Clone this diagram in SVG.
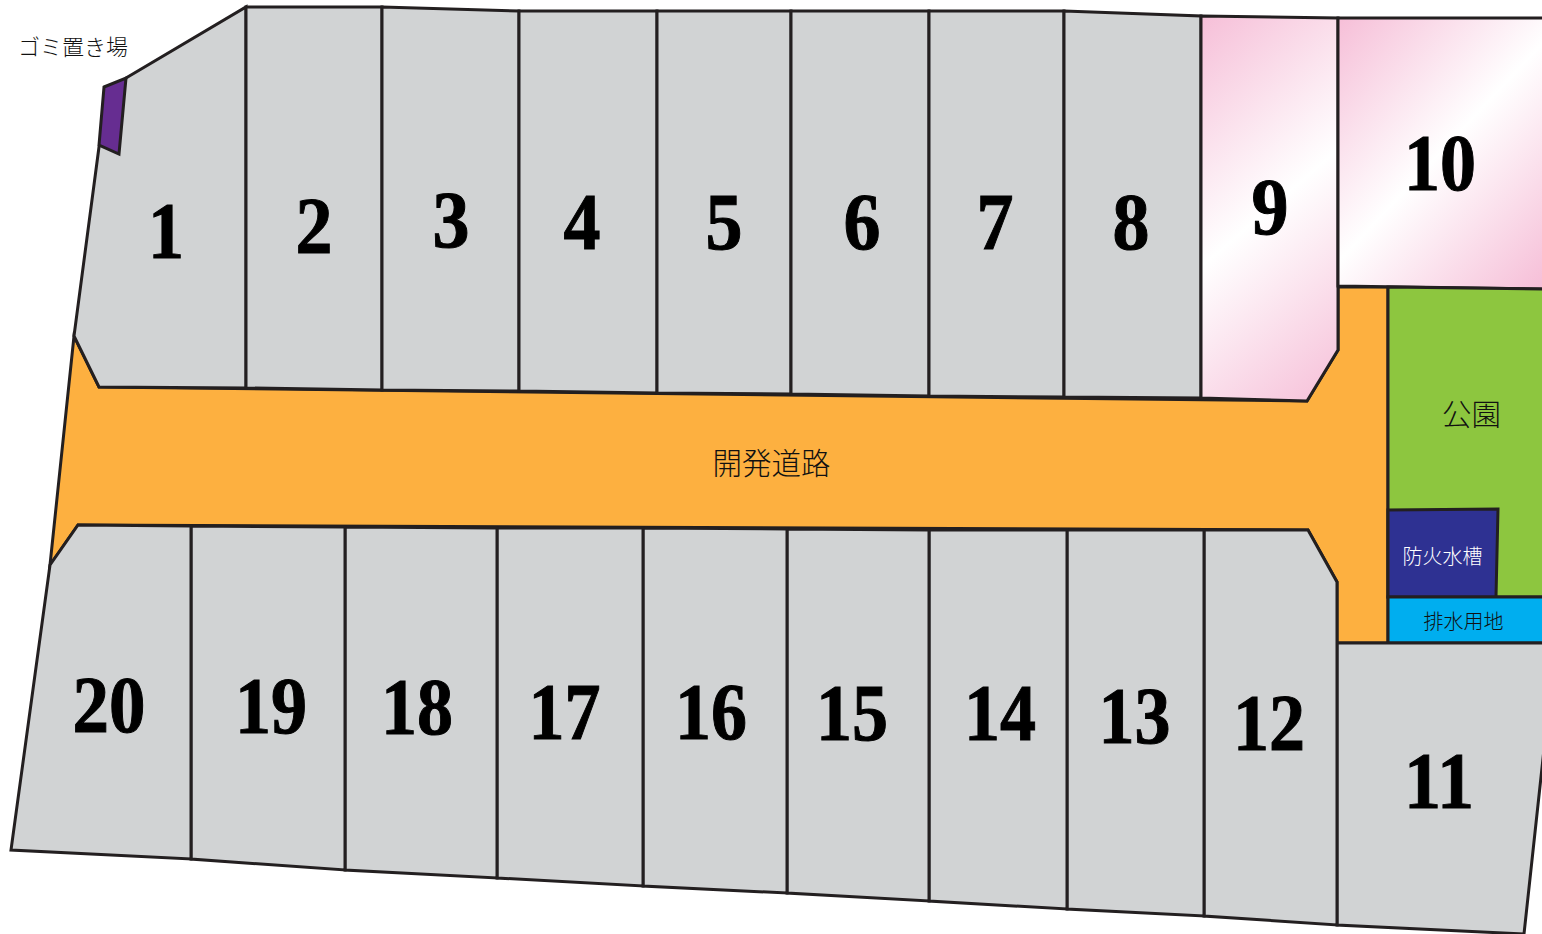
<svg xmlns="http://www.w3.org/2000/svg" width="1542" height="934" viewBox="0 0 1542 934">
<style>
.s{stroke:#231f20;stroke-width:3;stroke-linejoin:miter}
.g{fill:#d1d3d4}
.n{font-family:"Liberation Serif","Times New Roman",serif;font-weight:bold;font-size:80px;fill:#000;stroke:#000;stroke-width:1;text-anchor:middle}
.j{font-family:"Noto Sans CJK JP","Noto Sans",sans-serif;fill:#111;font-weight:300}
</style>
<defs>
<linearGradient id="p9" gradientUnits="userSpaceOnUse" x1="1146" y1="63" x2="1394" y2="353"><stop offset="0" stop-color="#f6bfd8"/><stop offset=".5" stop-color="#fff"/><stop offset="1" stop-color="#f6bfd8"/></linearGradient>
<linearGradient id="p10" gradientUnits="userSpaceOnUse" x1="1319" y1="40" x2="1561" y2="266"><stop offset="0" stop-color="#f6bfd8"/><stop offset=".5" stop-color="#fff"/><stop offset="1" stop-color="#f6bfd8"/></linearGradient>
</defs>
<rect width="1542" height="934" fill="#fff"/>
<g id="road"><polygon class="s" fill="#fdb040" points="74,336 99,387 1307,401 1338,350 1338,287 1388,287 1388,643 1337,643 1337,582 1308,530 78,525 50,565"/>
<text class="j" x="771.500" y="473.500" font-size="29.500" text-anchor="middle">開発道路</text></g>
<g id="lot1"><polygon class="s g" points="126,78 246,7 246,388 99,387 74,336 99,147"/><text class="n" x="166" y="258" textLength="36" lengthAdjust="spacingAndGlyphs">1</text></g>
<g id="lot2"><polygon class="s g" points="246,7 382,7 382,390 246,388"/><text class="n" x="314" y="253" textLength="37" lengthAdjust="spacingAndGlyphs">2</text></g>
<g id="lot3"><polygon class="s g" points="382,7 519,11 519,391 382,390"/><text class="n" x="451" y="247" textLength="37" lengthAdjust="spacingAndGlyphs">3</text></g>
<g id="lot4"><polygon class="s g" points="519,11 657,11 657,393 519,391"/><text class="n" x="582" y="249" textLength="37" lengthAdjust="spacingAndGlyphs">4</text></g>
<g id="lot5"><polygon class="s g" points="657,11 791,11 791,394 657,393"/><text class="n" x="724" y="249" textLength="37" lengthAdjust="spacingAndGlyphs">5</text></g>
<g id="lot6"><polygon class="s g" points="791,11 929,11 929,396 791,394"/><text class="n" x="862" y="249" textLength="37" lengthAdjust="spacingAndGlyphs">6</text></g>
<g id="lot7"><polygon class="s g" points="929,11 1064,11 1064,397 929,396"/><text class="n" x="995" y="249" textLength="37" lengthAdjust="spacingAndGlyphs">7</text></g>
<g id="lot8"><polygon class="s g" points="1064,11 1201,16 1201,398 1064,397"/><text class="n" x="1131" y="249" textLength="37" lengthAdjust="spacingAndGlyphs">8</text></g>
<g id="lot9"><polygon class="s" fill="url(#p9)" points="1201,16 1338,18 1338,350 1307,401 1201,398"/><text class="n" x="1270" y="234" textLength="37" lengthAdjust="spacingAndGlyphs">9</text></g>
<g id="lot10"><polygon class="s" fill="url(#p10)" points="1338,18 1545,18 1545,289 1338,286"/><text class="n" x="1440" y="190" textLength="72" lengthAdjust="spacingAndGlyphs">10</text></g>
<g id="park"><polygon class="s" fill="#8dc63f" points="1388,287 1545,289 1545,597 1388,597"/><text class="j" x="1471.500" y="425" font-size="29.500" text-anchor="middle">公園</text></g>
<g id="tank"><polygon class="s" fill="#2e3192" points="1388,510 1498,509 1496,597 1388,597"/><text class="j" x="1442.500" y="564" font-size="20" text-anchor="middle" style="fill:#fff">防火水槽</text></g>
<g id="drain"><polygon class="s" fill="#00aeef" points="1388,597 1545,597 1545,643 1388,643"/><text class="j" x="1463.500" y="629" font-size="20" text-anchor="middle">排水用地</text></g>
<g id="lot11"><polygon class="s g" points="1337,643 1545,643 1545,740 1524,934 1337,925"/><text class="n" x="1439" y="808" textLength="70" lengthAdjust="spacingAndGlyphs">11</text></g>
<g id="lot12"><polygon class="s g" points="1204,530 1308,530 1337,582 1337,925 1204,916"/><text class="n" x="1269" y="750" textLength="72" lengthAdjust="spacingAndGlyphs">12</text></g>
<g id="lot13"><polygon class="s g" points="1067,530 1204,530 1204,916 1067,909"/><text class="n" x="1134.500" y="743" textLength="72" lengthAdjust="spacingAndGlyphs">13</text></g>
<g id="lot14"><polygon class="s g" points="929,530 1067,530 1067,909 929,901"/><text class="n" x="1000" y="740" textLength="72" lengthAdjust="spacingAndGlyphs">14</text></g>
<g id="lot15"><polygon class="s g" points="787,529 929,530 929,901 787,893"/><text class="n" x="852" y="740" textLength="72" lengthAdjust="spacingAndGlyphs">15</text></g>
<g id="lot16"><polygon class="s g" points="643,528 787,529 787,893 643,886"/><text class="n" x="711" y="739" textLength="72" lengthAdjust="spacingAndGlyphs">16</text></g>
<g id="lot17"><polygon class="s g" points="497,528 643,528 643,886 497,878"/><text class="n" x="564.500" y="739" textLength="72" lengthAdjust="spacingAndGlyphs">17</text></g>
<g id="lot18"><polygon class="s g" points="345,527 497,528 497,878 345,870"/><text class="n" x="417" y="734" textLength="72" lengthAdjust="spacingAndGlyphs">18</text></g>
<g id="lot19"><polygon class="s g" points="191,526 345,527 345,870 191,859"/><text class="n" x="271" y="733" textLength="72" lengthAdjust="spacingAndGlyphs">19</text></g>
<g id="lot20"><polygon class="s g" points="78,525 191,526 191,859 11,850 50,565"/><text class="n" x="109" y="732" textLength="73" lengthAdjust="spacingAndGlyphs">20</text></g>
<g id="garbage"><polygon class="s" fill="#662d91" points="104,87 126,78 119,154 99,145"/><text class="j" x="18" y="55" font-size="22">ゴミ置き場</text></g>
<g id="connectors"/>
</svg>
